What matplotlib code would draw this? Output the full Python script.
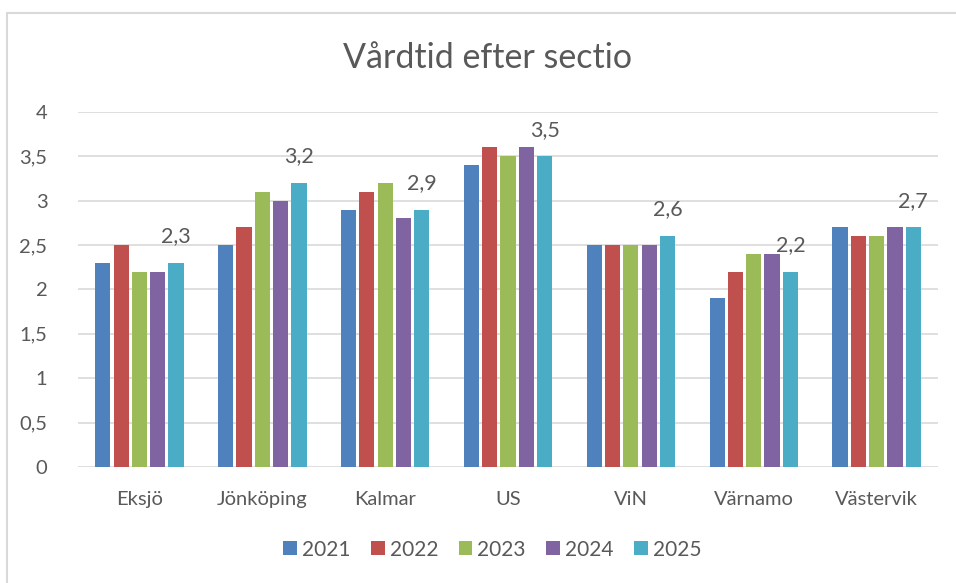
import matplotlib
matplotlib.use("Agg")
import matplotlib.pyplot as plt
from matplotlib.patches import Rectangle
import numpy as np

plt.rcParams['font.family'] = ['Lato', 'DejaVu Sans']

# data
sites = ['Eksjö', 'Jönköping', 'Kalmar', 'US', 'ViN', 'Värnamo', 'Västervik']
years = ['2021', '2022', '2023', '2024', '2025']
v2021 = [2.3, 2.5, 2.9, 3.4, 2.5, 1.9, 2.7]
v2022 = [2.5, 2.7, 3.1, 3.6, 2.5, 2.2, 2.6]
v2023 = [2.2, 3.1, 3.2, 3.5, 2.5, 2.4, 2.6]
v2024 = [2.2, 3.0, 2.8, 3.6, 2.5, 2.4, 2.7]
v2025 = [2.3, 3.2, 2.9, 3.5, 2.6, 2.2, 2.7]
series = [v2021, v2022, v2023, v2024, v2025]
colors = ['#4F81BD', '#C0504D', '#9BBB59', '#8064A2', '#4BACC6']

txt = '#595959'
grid = '#D9D9D9'

fig = plt.figure(figsize=(9.56, 5.83), dpi=100)
ax = fig.add_axes([0.0816, 0.199, 0.8996, 0.609])

x = np.arange(len(sites))
pitch = 0.149
width = 0.124
for i, (vals, c, yr) in enumerate(zip(series, colors, years)):
    pos = x + (i - 2) * pitch
    bars = ax.bar(pos, vals, width=width, color=c, label=yr, zorder=3)
    if yr == '2025':
        # only the last series carries value labels
        for b, v in zip(bars, vals):
            ax.text(b.get_x() + b.get_width() / 2, v + 0.3,
                    f'{v:.1f}'.replace('.', ','), ha='center', va='center',
                    fontsize=15.5, color=txt)

ax.set_xlim(-0.5, len(sites) - 0.5)
ax.set_ylim(0, 4)
yt = np.arange(0, 4.01, 0.5)
ax.set_yticks(yt)
ax.set_yticklabels([f'{t:g}'.replace('.', ',') for t in yt])
ax.set_xticks(x)
ax.set_xticklabels(sites)
ax.tick_params(axis='both', length=0, labelsize=14.5, colors=txt)
ax.tick_params(axis='y', pad=22)
ax.tick_params(axis='x', pad=17)
ax.yaxis.grid(True, color=grid, linewidth=1.2, zorder=0)
for s in ax.spines.values():
    s.set_visible(False)

fig.text(0.51, 0.9, 'Vårdtid efter sectio', ha='center', va='center',
         fontsize=24.5, color=txt)

fig.legend(loc='center', bbox_to_anchor=(0.515, 0.057), ncol=5, frameon=False,
           fontsize=15, labelcolor=txt, handlelength=0.65, handleheight=0.65,
           handletextpad=0.25, columnspacing=0.98)

# light frame around the chart area, cut by the right/bottom edge
fig.patches.append(Rectangle((7 / 956, -0.1), 1.2, 0.1 + 0.977,
                             transform=fig.transFigure, fill=False,
                             edgecolor='#D9D9D9', linewidth=1.5))

fig.savefig('out.png', dpi=100)
